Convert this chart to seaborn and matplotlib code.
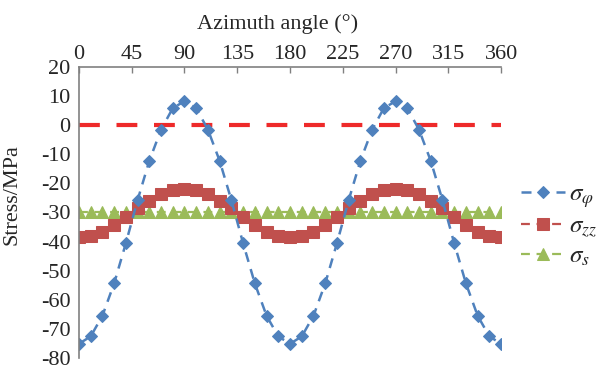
import numpy as np
import pandas as pd
import matplotlib
matplotlib.use("Agg")
import matplotlib.pyplot as plt
import seaborn as sns

# azimuth angle in degrees, every 10 deg
angles = list(range(0, 361, 10))

half_phi = [-75.1, -72.6, -65.5, -54.4, -40.6, -25.8, -12.3, -1.6, 5.8, 8.2,
            5.8, -1.6, -12.3, -25.8, -40.6, -54.4, -65.5, -72.6]
sigma_phi = half_phi + half_phi + [-75.1]

half_zz = [-38.5, -38.0, -36.6, -34.2, -31.6, -28.6, -26.0, -23.6, -22.3, -21.8,
           -22.3, -23.6, -26.0, -28.6, -31.6, -34.2, -36.6, -38.0]
sigma_zz = half_zz + half_zz + [-38.5]

sigma_s = [-30.0] * 37
zero_line = [0.0] * 37

x_ticks = [0, 45, 90, 135, 180, 225, 270, 315, 360]
y_ticks = [20, 10, 0, -10, -20, -30, -40, -50, -60, -70, -80]

sns.set_style("white")
plt.rcParams["font.family"] = ["Liberation Serif", "DejaVu Serif"]
plt.rcParams["mathtext.fontset"] = "stix"
plt.rcParams["axes.unicode_minus"] = False

df = pd.DataFrame({"angle": angles, "phi": sigma_phi, "zz": sigma_zz,
                   "s": sigma_s, "zero": zero_line})

fig = plt.figure(figsize=(5.98, 3.70), dpi=100)
ax = fig.add_axes([0.132, 0.0324, 0.706, 0.787])

# reference line at zero
sns.lineplot(data=df, x="angle", y="zero", ax=ax, color="#EE2A2A",
             linewidth=3.0, linestyle=(0, (5, 4)), legend=False)

sns.lineplot(data=df, x="angle", y="s", ax=ax, color="#9BBB59",
             linestyle=(0, (4, 3)), linewidth=1.6, marker="^", markersize=9,
             markeredgecolor="#9BBB59", label=r"$\sigma_{s}$")
sns.lineplot(data=df, x="angle", y="zz", ax=ax, color="#C0504D",
             linestyle=(0, (4, 3)), linewidth=1.6, marker="s", markersize=8,
             markeredgecolor="#C0504D", label=r"$\sigma_{zz}$")
sns.lineplot(data=df, x="angle", y="phi", ax=ax, color="#4F81BD",
             linestyle=(0, (4, 3)), linewidth=1.8, marker="D", markersize=6.5,
             markeredgecolor="#4F81BD", label=r"$\sigma_{\varphi}$")

ax.set_xlim(0, 360)
ax.set_ylim(-80, 20)
ax.set_xticks(x_ticks)
ax.set_yticks(y_ticks)

ax.xaxis.tick_top()
ax.xaxis.set_label_position("top")
ax.tick_params(axis="x", direction="in", length=4, color="#808080", labelsize=16, pad=2)
ax.tick_params(axis="y", direction="out", length=4, color="#808080", labelsize=16, pad=2)
ax.tick_params(axis="both", width=1)

for side in ["right", "bottom"]:
    ax.spines[side].set_visible(False)
for side in ["left", "top"]:
    ax.spines[side].set_color("#808080")
    ax.spines[side].set_linewidth(1.2)

ax.set_xlabel("Azimuth angle (°)", fontsize=16)
ax.set_ylabel("Stress/MPa", fontsize=16)
ax.xaxis.set_label_coords(0.47, 1.13)
ax.yaxis.set_label_coords(-0.135, 0.56)

handles, labels = ax.get_legend_handles_labels()
order = [2, 1, 0]
ax.legend([handles[i] for i in order], [labels[i] for i in order],
          loc="center left", bbox_to_anchor=(0.872, 0.39),
          bbox_transform=fig.transFigure, frameon=False, borderpad=0,
          borderaxespad=0, fontsize=18, handlelength=1.75, handletextpad=0.15,
          labelspacing=0.2)

fig.savefig("out.png", dpi=100)
